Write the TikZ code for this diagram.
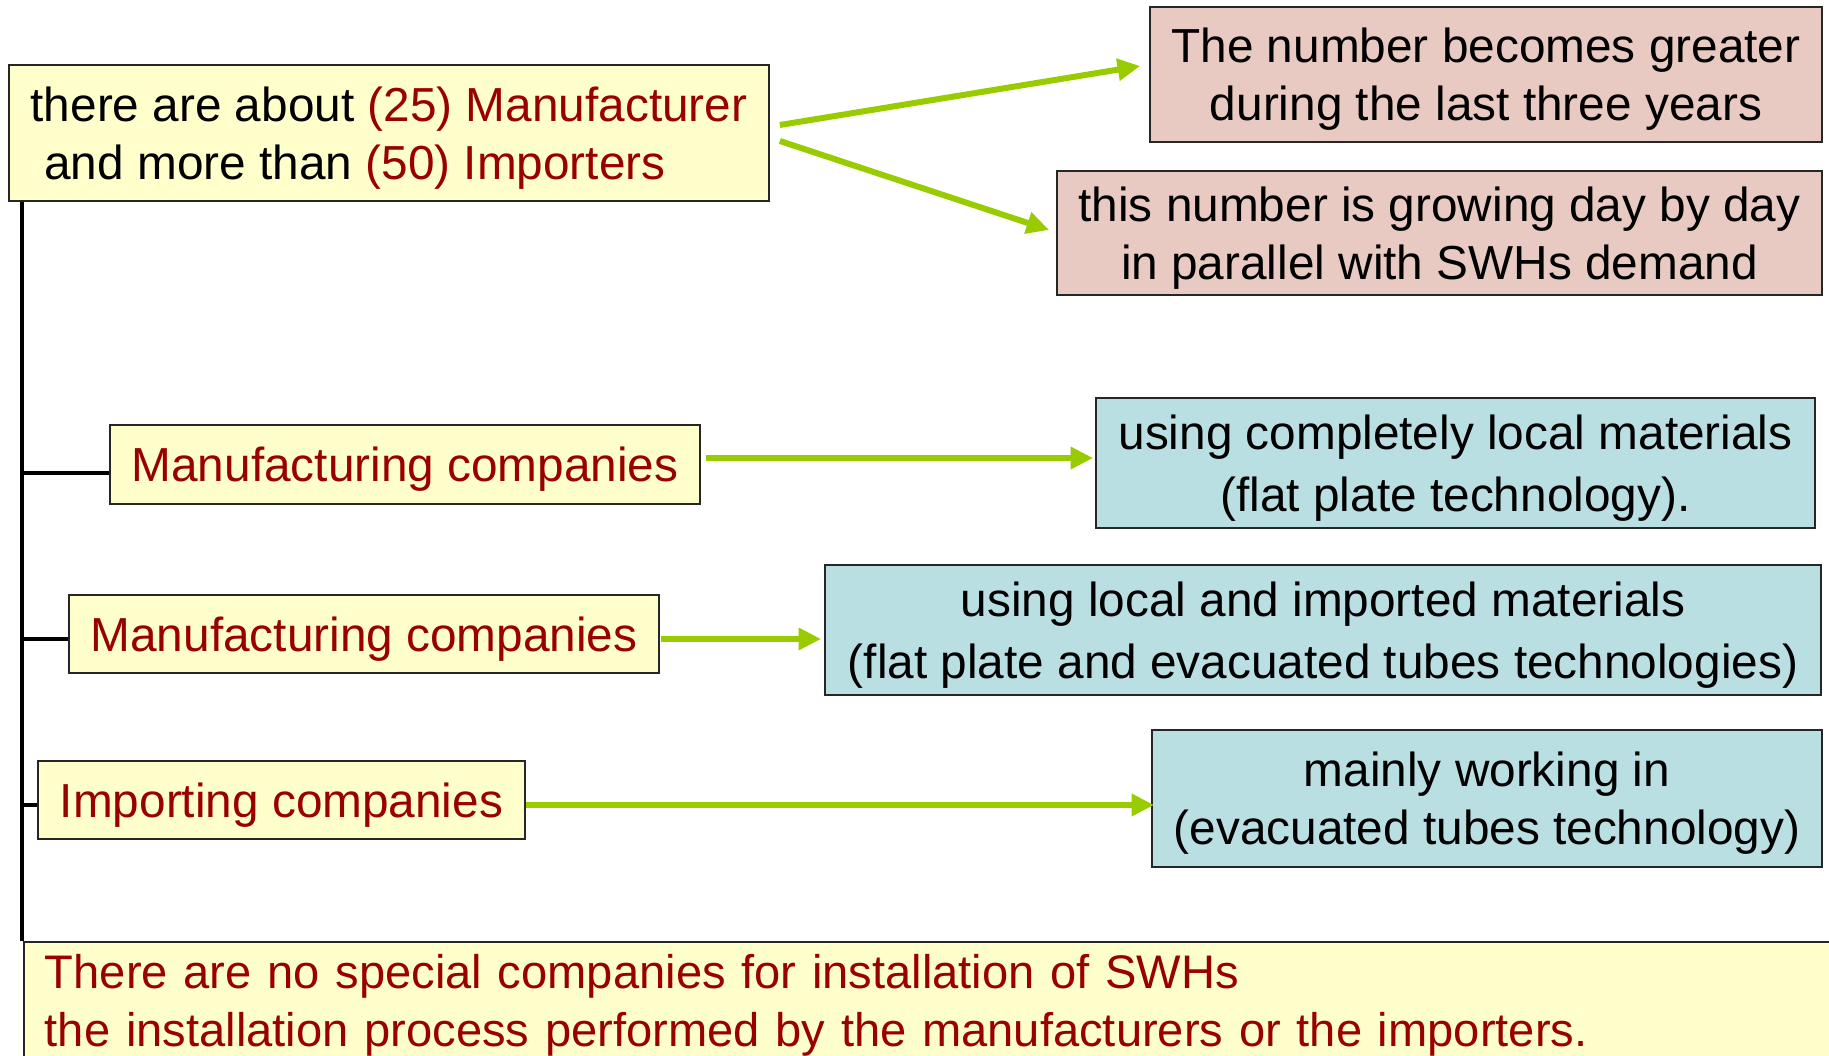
\documentclass[tikz,border=0pt]{standalone}
\usepackage{fontspec}
\setmainfont{Liberation Sans}
\usetikzlibrary{calc,arrows.meta}
\definecolor{yfill}{HTML}{FFFFCC}
\definecolor{pfill}{HTML}{E8CAC2}
\definecolor{bfill}{HTML}{BADFE3}
\definecolor{agreen}{HTML}{99CC00}
\definecolor{dred}{HTML}{990000}
\tikzset{
  box/.style={draw=black!85, line width=0.7pt, inner sep=0pt, align=center,
    font=\fontsize{19.1}{23.2}\selectfont, text depth=0pt},
  ybox/.style={box, fill=yfill, text=dred},
  pbox/.style={box, fill=pfill},
  bbox/.style={box, fill=bfill, font=\fontsize{19.1}{25}\selectfont},
  garrow/.style={draw=agreen, line width=2.4pt, -{Triangle[length=9pt,width=8.5pt]}},
  trunkline/.style={draw=black, line width=1.4pt}
}
\begin{document}
\begin{tikzpicture}[x=0.4pt,y=-0.4pt]
\useasboundingbox (0,0) rectangle (1829,1055);
\clip (0,0) rectangle (1829,1055);
% nodes
\node[ybox, text=black, align=left, minimum width=304pt, minimum height=54.4pt] (A) at (389,133)
  {there are about \textcolor{dred}{(25) Manufacturer}\\\hspace{5.5pt}and more than \textcolor{dred}{(50) Importers}};
\node[pbox, minimum width=268.8pt, minimum height=54pt] (B) at (1486,74.5)
  {The number becomes greater\\during the last three years};
\node[pbox, minimum width=306pt, minimum height=49.6pt] (C) at (1439.5,233)
  {this number is growing day by day\\in parallel with SWHs demand};
\node[ybox, minimum width=236pt, minimum height=31.6pt] (D) at (405,464.5)
  {Manufacturing companies};
\node[bbox, minimum width=287.6pt, minimum height=52pt] (E) at (1455.5,463)
  {using completely local materials\\(flat plate technology).};
\node[ybox, minimum width=236pt, minimum height=31.2pt] (F) at (364,634)
  {Manufacturing companies};
\node[bbox, minimum width=398.4pt, minimum height=52pt] (G) at (1323,630)
  {using local and imported materials\\(flat plate and evacuated tubes technologies)};
\node[ybox, minimum width=194.8pt, minimum height=31.2pt] (H) at (281.5,800)
  {Importing companies};
\node[box, fill=bfill, minimum width=268pt, minimum height=54.8pt] (I) at (1487,798.5)
  {mainly working in\\(evacuated tubes technology)};
\node[ybox, anchor=north west, align=left, text width=711pt, inner xsep=8.4pt,
  font=\fontsize{18.85}{23.2}\selectfont, text depth=,
  minimum width=719.6pt, minimum height=50.4pt] (J) at (23,941)
  {There are no special companies for installation of SWHs\\the installation process performed by the manufacturers or the importers.};
% trunk
\coordinate (trunktop) at ($(A.south west)+(14,0)$);
\coordinate (tD) at (23,473);
\coordinate (tF) at (23,639);
\coordinate (tH) at (23,805);
\draw[trunkline] (trunktop) -- (trunktop |- J.north);
\draw[trunkline] (tD) -- (D.west |- tD);
\draw[trunkline] (tF) -- (F.west |- tF);
\draw[trunkline] (tH) -- (H.west |- tH);
% arrows
\draw[garrow] ($(A.east)+(10,-8)$) -- ($(B.west)+(-9,-8.5)$);
\draw[garrow] ($(A.east)+(10,8)$) -- ($(C.west)+(-7,-3)$);
\draw[garrow] ($(D.east)+(5,-6.5)$) -- ($(E.west)+(-2,-5)$);
\draw[garrow] ($(F.east)+(1,5)$) -- ($(G.west)+(-3,9)$);
\draw[garrow] ($(H.east)+(0,5)$) -- ($(I.west)+(3,6.5)$);
\end{tikzpicture}
\end{document}
